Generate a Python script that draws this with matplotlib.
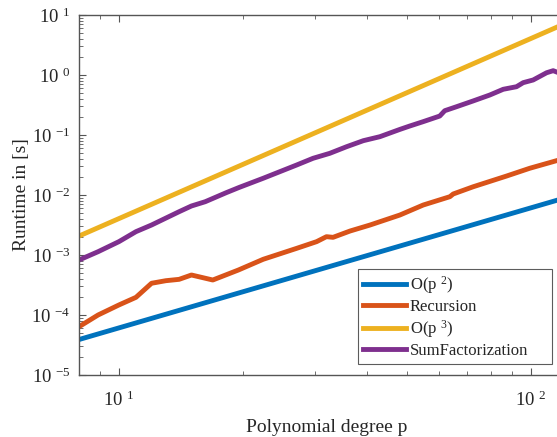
import matplotlib
matplotlib.use('Agg')
import matplotlib.pyplot as plt
from matplotlib import ticker
import numpy as np

# values
p_ref = [8, 128]
o_p2 = [3.9e-5, 1.0e-2]
o_p3 = [2.07e-3, 8.5]

p_rec = [8.0, 8.9, 10, 11, 12, 13, 14, 15, 16.9, 19.5, 22.4, 27.0, 30.2, 31.9, 33.1,
         36.4, 40.7, 48.1, 54.8, 63.6, 64.8, 72.4, 87.3, 99.4, 115.4]
recursion = [6.38e-5, 1.0e-4, 1.47e-4, 1.97e-4, 3.38e-4, 3.73e-4, 3.93e-4, 4.64e-4, 3.83e-4,
             5.62e-4, 8.48e-4, 1.29e-3, 1.67e-3, 2.02e-3, 1.97e-3, 2.51e-3, 3.16e-3, 4.64e-3,
             6.81e-3, 9.37e-3, 1.04e-2, 1.37e-2, 2.07e-2, 2.79e-2, 3.73e-2]

p_sf = [8.0, 8.9, 10, 11, 12, 14, 15, 16.2, 18.2, 19.6, 22.4, 27.0, 29.6, 32.5, 35.7, 39.2,
        43.0, 48.1, 50.8, 54.8, 60.1, 61.8, 66.0, 72.4, 79.5, 85.7, 92.3, 95.8, 101.3, 109.2,
        113.3, 115.6]
sumfact = [8.25e-4, 1.135e-3, 1.67e-3, 2.45e-3, 3.16e-3, 5.27e-3, 6.56e-3, 7.73e-3, 1.09e-2,
           1.34e-2, 1.9e-2, 3.16e-2, 4.09e-2, 4.95e-2, 6.38e-2, 8.04e-2, 9.37e-2, 0.124, 0.141,
           0.167, 0.207, 0.254, 0.296, 0.369, 0.464, 0.578, 0.638, 0.745, 0.826, 1.09, 1.18, 1.12]

labels = ['O(p $^{2}$)', 'Recursion', 'O(p $^{3}$)', 'SumFactorization']
colors = ['#0072BD', '#D95319', '#EDB120', '#7E2F8E']

plt.rcParams['font.family'] = ['Liberation Serif', 'DejaVu Serif']
plt.rcParams['mathtext.fontset'] = 'custom'
plt.rcParams['mathtext.rm'] = 'Liberation Serif'
plt.rcParams['mathtext.it'] = 'Liberation Serif:italic'

W, H = 557, 437
fig = plt.figure(figsize=(W / 100, H / 100), dpi=100)
# axes box in pixels: left 79, top 15, bottom 375; right edge runs past the picture
ax = fig.add_axes([79 / W, (H - 375) / H, (575 - 79) / W, 360 / H])

lw = 3.5
ax.plot(p_ref, o_p2, color=colors[0], lw=lw, label=labels[0])
ax.plot(p_rec, recursion, color=colors[1], lw=lw, label=labels[1])
ax.plot(p_ref, o_p3, color=colors[2], lw=lw, label=labels[2])
ax.plot(p_sf, sumfact, color=colors[3], lw=lw, label=labels[3])

ax.set_xscale('log')
ax.set_yscale('log')
ax.set_xlim(8, 128)
ax.set_ylim(1e-5, 10)

ax.yaxis.set_major_locator(ticker.FixedLocator([10.0 ** e for e in range(-5, 2)]))
ax.xaxis.set_major_locator(ticker.FixedLocator([10.0, 100.0]))
ax.yaxis.set_minor_locator(ticker.LogLocator(base=10, subs=range(2, 10), numticks=10))
ax.xaxis.set_minor_locator(ticker.LogLocator(base=10, subs=range(2, 10), numticks=10))

fmt = ticker.FuncFormatter(lambda v, pos: '10 $^{%d}$' % int(round(np.log10(v))))
ax.xaxis.set_major_formatter(fmt)
ax.yaxis.set_major_formatter(fmt)
ax.xaxis.set_minor_formatter(ticker.NullFormatter())
ax.yaxis.set_minor_formatter(ticker.NullFormatter())

spine_c = '#555555'
for s in ax.spines.values():
    s.set_color(spine_c)
    s.set_linewidth(1.0)
ax.tick_params(which='both', direction='in', top=True, right=True, colors=spine_c,
               labelcolor='#262626', labelsize=13.5)
ax.tick_params(which='major', length=5, width=0.8)
ax.tick_params(which='minor', length=3, width=0.6)
ax.tick_params(axis='x', pad=11)
ax.tick_params(axis='y', pad=6)

ax.set_xlabel('Polynomial degree p', fontsize=14, color='#262626', labelpad=7)
ax.set_ylabel('Runtime in [s]', fontsize=14, color='#262626', labelpad=1)

leg = ax.legend(loc='lower left', bbox_to_anchor=(358 / W, (H - 364) / H, 194 / W, 93 / H),
                bbox_transform=fig.transFigure, mode='expand', fontsize=12, frameon=True,
                fancybox=False, handlelength=2.55, handletextpad=0.25, borderpad=0.3,
                labelspacing=0.18, borderaxespad=0)
leg.get_frame().set_edgecolor('#333333')
leg.get_frame().set_linewidth(0.8)
for t in leg.get_texts():
    t.set_color('#262626')

fig.savefig('out.png', dpi=100)
